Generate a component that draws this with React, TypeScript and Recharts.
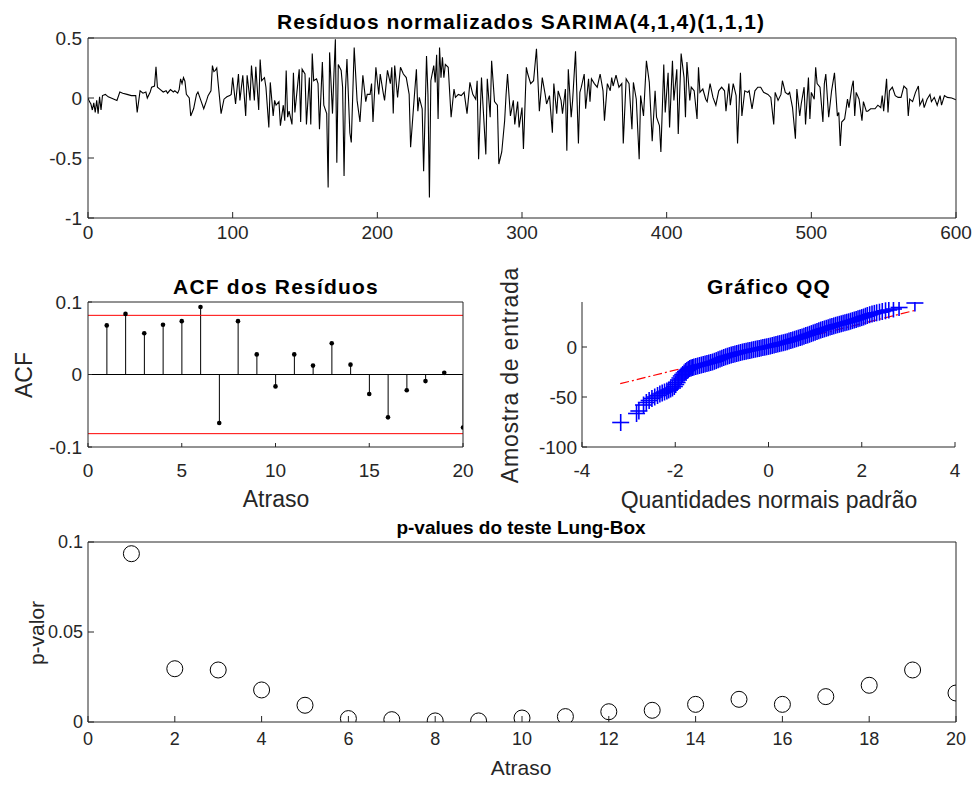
import React from "react";
import {
  Bar,
  ComposedChart,
  Line,
  LineChart,
  ReferenceLine,
  Scatter,
  ScatterChart,
  XAxis,
  YAxis,
} from "recharts";

const FONT = '"Liberation Sans", Arial, Helvetica, sans-serif';
const AX = "#262626";
const W = 978;
const H = 785;
const YW = 60;
const XH = 40;
const MIR = 10;

// residuos normalizados: [instante, valor]
const residuals: [number, number][] = [
  [0, 0], [1, -0.03], [2, -0.05], [3, -0.1], [4, -0.04], [5, -0.12], [6, -0.02], [7, -0.13], [8, 0.01], [9, -0.1],
  [10, 0.02], [12, 0.03], [14, 0.01], [16, 0], [18, -0.01], [20, -0.02], [22, 0.05], [24, 0.04], [27, 0.03], [30, 0.02],
  [33, 0.02], [34, -0.12], [36, 0.06], [38, 0.04], [40, 0.05], [41, 0], [43, 0.05], [44, 0.09], [46, 0.1], [47, 0.26],
  [48, 0.09], [50, 0.07], [52, 0.05], [54, 0.06], [55, 0.04], [57, 0.07], [59, 0.05], [60, 0.06], [62, 0.04], [63, 0.07],
  [64, 0.16], [65, 0.12], [66, 0.17], [67, 0.14], [68, 0.03], [70, 0], [71, -0.15], [73, -0.09], [75, 0.03], [76, 0.05],
  [78, -0.02], [80, -0.09], [82, -0.02], [83, 0.02], [85, 0.06], [86, 0.27], [87, 0.22], [88, 0.23], [89, 0.25], [90, 0.12],
  [92, -0.13], [94, -0.01], [96, 0.01], [98, 0.02], [99, 0.03], [100, 0.17], [102, -0.05], [104, 0.2], [105, -0.02], [107, 0.19],
  [109, -0.15], [110, 0.19], [112, -0.02], [113, 0.27], [115, -0.02], [116, 0.26], [118, -0.1], [119, 0.32], [120, 0.144], [122, 0.17],
  [123, 0.09], [125, -0.245], [126, 0.13], [128, -0.15], [129, -0.02], [130, -0.06], [132, -0.03], [133, -0.23], [135, -0.06], [136, -0.19],
  [137, 0.23], [138, -0.16], [139, -0.11], [141, -0.22], [142, 0.21], [143, -0.12], [145, 0.12], [146, 0.24], [147, -0.2], [148, 0.24],
  [150, 0.2], [151, -0.22], [153, 0.17], [154, -0.22], [155, 0.37], [156, 0.144], [158, 0.16], [159, 0.12], [160, -0.26], [162, 0.3],
  [163, -0.06], [165, -0.13], [166, -0.745], [167, 0.38], [169, -0.13], [170, 0.2], [171, 0.49], [172, -0.54], [173, 0.28], [175, 0.23],
  [176, 0.09], [177, -0.65], [178, 0.075], [179, 0.325], [181, -0.29], [182, -0.37], [184, 0.42], [186, -0.02], [188, -0.2], [190, 0.19],
  [192, -0.03], [193, 0.03], [195, 0.03], [196, 0.12], [197, -0.2], [199, 0.256], [201, 0.03], [202, 0.2], [204, 0.047], [205, -0.02],
  [207, 0.23], [209, 0.12], [210, 0.256], [211, -0.13], [212, 0.27], [214, 0.005], [216, 0.256], [218, 0.2], [220, 0.17], [222, 0.03],
  [223, -0.41], [225, -0.08], [227, 0.24], [228, -0.11], [229, 0.005], [231, -0.09], [232, -0.61], [234, 0.35], [235, 0.03], [236, -0.83],
  [237, 0.144], [239, 0.27], [240, 0.13], [241, 0.36], [242, -0.175], [243, 0.42], [244, 0.17], [245, 0.34], [246, 0.17], [247, 0.28],
  [249, 0.256], [251, -0.16], [253, 0.075], [254, 0.005], [256, 0.03], [258, 0.02], [260, 0.047], [262, -0.13], [264, 0.13], [266, 0.03],
  [268, -0.01], [269, 0.144], [270, -0.51], [272, 0.17], [273, -0.05], [275, -0.47], [276, 0.16], [278, -0.16], [279, 0.31], [281, -0.03],
  [283, -0.06], [284, -0.55], [286, -0.45], [288, -0.19], [289, 0.03], [290, 0.2], [292, -0.15], [294, -0.02], [295, -0.22], [297, -0.03],
  [298, -0.245], [300, -0.08], [301, -0.425], [303, 0.256], [304, 0.2], [306, 0.12], [308, 0.144], [310, 0.41], [312, -0.11], [314, 0.17],
  [316, 0.03], [317, -0.05], [319, 0.02], [321, -0.29], [322, 0.12], [324, -0.13], [325, 0.06], [327, -0.02], [328, -0.13], [330, 0.075],
  [331, -0.44], [332, 0.24], [334, -0.16], [335, -0.02], [337, 0.39], [339, -0.38], [340, 0.047], [341, 0.09], [343, 0.2], [344, -0.09],
  [346, 0.16], [347, -0.03], [348, 0.16], [350, 0.12], [352, 0.09], [354, 0.2], [356, 0.06], [357, -0.19], [359, 0.12], [361, 0.06],
  [362, 0.17], [363, 0.1], [365, 0.19], [367, 0.09], [369, 0.12], [370, -0.38], [372, 0.16], [374, 0.12], [376, -0.26], [377, 0.13],
  [379, -0.01], [381, -0.51], [382, 0.02], [384, -0.15], [386, 0.31], [388, 0.13], [390, -0.36], [392, 0.06], [393, -0.16], [395, -0.23],
  [396, -0.45], [398, 0.28], [399, -0.12], [401, 0.21], [402, -0.245], [404, 0.31], [405, -0.02], [407, 0.24], [408, -0.3], [410, 0.37],
  [412, 0.17], [413, -0.16], [414, 0.3], [416, -0.02], [417, 0.09], [419, 0.06], [421, -0.175], [422, 0.256], [423, 0.047], [425, 0.075],
  [427, -0.01], [428, -0.03], [430, 0.12], [432, 0.005], [434, -0.06], [436, 0.06], [438, 0.09], [440, 0.06], [441, -0.11], [443, 0.12],
  [444, -0.06], [446, 0.12], [448, 0.02], [449, -0.38], [451, 0.21], [452, -0.15], [454, 0.06], [456, 0.047], [457, 0.06], [459, -0.09],
  [461, 0.06], [463, 0.09], [465, 0.09], [467, 0.047], [470, 0.03], [472, 0.005], [474, -0.22], [475, 0.047], [477, -0.02], [479, 0.03],
  [480, 0.144], [482, 0.047], [484, 0.03], [485, 0.047], [487, -0.08], [489, -0.34], [490, 0.075], [492, -0.15], [493, -0.05], [495, 0.09],
  [496, -0.22], [498, 0.17], [499, -0.175], [500, 0.047], [502, -0.01], [503, 0.256], [504, 0.12], [506, 0.09], [508, -0.2], [509, 0.12],
  [510, 0.2], [512, -0.16], [514, 0.06], [516, 0.21], [518, -0.15], [519, -0.12], [520, -0.4], [521, -0.2], [523, -0.175], [525, -0.01],
  [526, -0.08], [528, 0.09], [529, 0.144], [530, -0.15], [531, 0.047], [533, -0.01], [535, -0.19], [536, -0.03], [538, -0.11], [539, -0.11],
  [541, -0.09], [544, -0.09], [546, -0.06], [548, -0.08], [549, 0.02], [550, -0.11], [552, 0.16], [553, -0.12], [554, 0.06], [556, 0.09],
  [558, 0.02], [560, 0.005], [562, 0.005], [564, 0.1], [566, 0.075], [567, -0.15], [568, -0.01], [570, -0.03], [572, 0.047], [574, 0.1],
  [575, -0.06], [577, -0.01], [578, -0.08], [580, -0.01], [582, 0.03], [583, -0.03], [585, 0.005], [587, -0.06], [589, 0.02], [590, -0.06],
  [592, 0.02], [594, 0.005], [597, 0], [600, -0.015],
];

// ACF dos residuos
const acfLags = [1, 2, 3, 4, 5, 6, 7, 8, 9, 10, 11, 12, 13, 14, 15, 16, 17, 18, 19, 20];
const acfValues = [
  0.0677, 0.0836, 0.0568, 0.0686, 0.0736, 0.0932, -0.0668, 0.0736, 0.0277, -0.0164,
  0.0277, 0.0123, 0.0432, 0.0136, -0.0268, -0.0591, -0.0218, -0.0091, 0.0023, -0.0732,
];
const acfBound = 0.0816;

// grafico QQ: [quantil normal, amostra]
const qqPoints: [number, number][] = [
  [-3.17, -75.5], [-2.83, -66.5], [-2.78, -64], [-2.68, -58], [-2.62, -55.5], [-2.56, -53.5], [-2.5, -51.5], [-2.44, -50],
  [-2.38, -48.5], [-2.33, -47], [-2.28, -46], [-2.23, -45], [-2.18, -44], [-2.14, -43], [-2.1, -42], [-2.06, -41],
  [-2.02, -39.5], [-1.99, -37.5], [-1.96, -35.5], [-1.93, -33], [-1.9, -31], [-1.87, -29], [-1.84, -27.5], [-1.81, -26],
  [-1.78, -24.5], [-1.75, -23.5], [-1.72, -22.5], [-1.69, -21.5], [-1.66, -21], [-1.63, -20.5], [-1.6, -20], [-1.56, -19.5],
  [-1.52, -19], [-1.48, -18.5], [-1.44, -18], [-1.4, -17.5], [-1.36, -17], [-1.32, -16.5], [-1.28, -16], [-1.24, -15.5],
  [-1.2, -15], [-1.16, -14.3], [-1.12, -13.6], [-1.08, -12.8], [-1.04, -12], [-1.0, -11.2], [-0.96, -10.5], [-0.92, -9.8],
  [-0.88, -9.2], [-0.84, -8.6], [-0.8, -8], [-0.76, -7.5], [-0.72, -7], [-0.68, -6.5], [-0.64, -6], [-0.6, -5.5],
  [-0.56, -5], [-0.52, -4.6], [-0.48, -4.2], [-0.44, -3.8], [-0.4, -3.4], [-0.36, -3], [-0.32, -2.6], [-0.28, -2.2],
  [-0.24, -1.8], [-0.2, -1.4], [-0.16, -1], [-0.12, -0.6], [-0.08, -0.2], [-0.04, 0.2], [0, 0.6], [0.04, 1.0],
  [0.08, 1.5], [0.12, 2], [0.16, 2.5], [0.2, 3], [0.24, 3.4], [0.28, 3.9], [0.32, 4.3], [0.36, 4.8],
  [0.4, 5.3], [0.44, 5.9], [0.48, 6.5], [0.52, 7.1], [0.56, 7.7], [0.6, 8.3], [0.64, 8.9], [0.68, 9.5],
  [0.72, 10.1], [0.76, 10.8], [0.8, 11.4], [0.84, 12], [0.88, 12.7], [0.92, 13.4], [0.96, 14.1], [1.0, 14.8],
  [1.04, 15.5], [1.08, 16.2], [1.12, 16.9], [1.16, 17.5], [1.2, 18.1], [1.24, 18.7], [1.28, 19.3], [1.32, 19.9],
  [1.36, 20.5], [1.4, 21.1], [1.44, 21.7], [1.48, 22.2], [1.52, 22.7], [1.56, 23.2], [1.6, 23.7], [1.64, 24.2],
  [1.68, 24.7], [1.72, 25.2], [1.76, 25.8], [1.8, 26.4], [1.84, 27], [1.88, 27.6], [1.92, 28.2], [1.96, 28.8],
  [2.0, 29.4], [2.04, 30], [2.08, 30.8], [2.12, 31.5], [2.17, 32.3], [2.22, 33], [2.27, 33.6], [2.32, 34.2],
  [2.38, 34.8], [2.44, 35.5], [2.51, 36.2], [2.58, 37], [2.68, 38], [2.8, 39.5], [3.14, 44],
];
const qqLineX = [-3.18, 3.14];
const qqLineY = [-36.7, 36.6];

// p-values Ljung-Box
const lbLags = [1, 2, 3, 4, 5, 6, 7, 8, 9, 10, 11, 12, 13, 14, 15, 16, 17, 18, 19, 20];
const lbPValues = [
  0.0935, 0.0296, 0.0289, 0.0178, 0.0093, 0.0019, 0.0013, 0.0006, 0.0006, 0.0022,
  0.003, 0.0057, 0.0065, 0.0098, 0.0126, 0.0098, 0.0141, 0.0204, 0.0289, 0.0161,
];

const resData = residuals.map(([t, r]) => ({ t, r }));
const acfData = acfLags.map((lag, i) => ({ lag, acf: acfValues[i] }));
const qqData = qqPoints.map(([x, y]) => ({ x, y }));
const lbData = lbLags.map((lag, i) => ({ lag, p: lbPValues[i] }));

type Box = { l: number; t: number; r: number; b: number };

function marginFor(b: Box, box: boolean) {
  return {
    left: b.l - YW,
    top: box ? b.t - MIR : b.t,
    right: box ? W - b.r - MIR : W - b.r,
    bottom: H - b.b - XH,
  };
}

type FrameOpts = {
  xKey: string;
  yKey?: string;
  xDomain: [number, number];
  xTicks: number[];
  yDomain: [number, number];
  yTicks: number[];
  tickLen: number;
  fontSize: number;
  xGap: number;
  yGap: number;
  box: boolean;
};

// eixos com marcas para dentro, e caixa opcional (eixos espelhados sem rotulos)
function frame(o: FrameOpts) {
  const tickStyle = { fontSize: o.fontSize, fill: AX, fontFamily: FONT };
  const line = { stroke: AX, strokeWidth: 1 };
  const els = [
    <XAxis
      key="x"
      dataKey={o.xKey}
      type="number"
      domain={o.xDomain}
      ticks={o.xTicks}
      allowDataOverflow
      interval={0}
      height={XH}
      tickSize={-o.tickLen}
      tickMargin={o.tickLen + o.xGap}
      tick={tickStyle}
      axisLine={line}
      tickLine={line}
    />,
    <YAxis
      key="y"
      dataKey={o.yKey}
      type="number"
      domain={o.yDomain}
      ticks={o.yTicks}
      allowDataOverflow
      interval={0}
      width={YW}
      tickSize={-o.tickLen}
      tickMargin={o.tickLen + o.yGap}
      tick={tickStyle}
      axisLine={line}
      tickLine={line}
    />,
  ];
  if (o.box) {
    els.push(
      <XAxis
        key="xm"
        xAxisId="m"
        orientation="top"
        type="number"
        domain={o.xDomain}
        ticks={o.xTicks}
        allowDataOverflow
        interval={0}
        height={MIR}
        tickSize={-o.tickLen}
        tick={false}
        axisLine={line}
        tickLine={line}
      />,
      <YAxis
        key="ym"
        yAxisId="m"
        orientation="right"
        type="number"
        domain={o.yDomain}
        ticks={o.yTicks}
        allowDataOverflow
        interval={0}
        width={MIR}
        tickSize={-o.tickLen}
        tick={false}
        axisLine={line}
        tickLine={line}
      />
    );
  }
  return els;
}

function Txt(props: {
  x: number;
  y: number;
  size: number;
  bold?: boolean;
  rotate?: boolean;
  spacing?: number;
  color?: string;
  children: React.ReactNode;
}) {
  return (
    <div
      style={{
        position: "absolute",
        left: props.x,
        top: props.y,
        transform: `translate(-50%, -50%)${props.rotate ? " rotate(-90deg)" : ""}`,
        fontSize: props.size,
        fontWeight: props.bold ? 700 : 400,
        fontFamily: FONT,
        color: props.color ?? AX,
        whiteSpace: "nowrap",
        lineHeight: 1,
        letterSpacing: props.spacing ?? 0,
      }}
    >
      {props.children}
    </div>
  );
}

const layer: React.CSSProperties = { position: "absolute", left: 0, top: 0 };

const topBox: Box = { l: 88, t: 38, r: 956, b: 218 };
const acfBox: Box = { l: 88, t: 302, r: 463, b: 447 };
const qqBox: Box = { l: 582, t: 302, r: 955, b: 447 };
const lbBox: Box = { l: 88, t: 542, r: 956, b: 722 };

const cross = (p: any) => (
  <g>
    <line x1={p.cx - 8.5} x2={p.cx + 8.5} y1={p.cy} y2={p.cy} stroke="#0000FF" strokeWidth={1.6} />
    <line x1={p.cx} x2={p.cx} y1={p.cy - 8.5} y2={p.cy + 8.5} stroke="#0000FF" strokeWidth={1.6} />
  </g>
);

const stemDot = (p: any) => <circle cx={p.cx} cy={p.cy} r={2.3} fill="#000" />;

const ring = (p: any) => <circle cx={p.cx} cy={p.cy} r={8} fill="none" stroke="#000" strokeWidth={1} />;

export default function App() {
  return (
    <div style={{ position: "absolute", left: 0, top: 0, width: W, height: H, background: "#fff" }}>
      <div style={layer}>
        <LineChart width={W} height={H} data={resData} margin={marginFor(topBox, true)}>
          {frame({
            xKey: "t",
            xDomain: [0, 600],
            xTicks: [0, 100, 200, 300, 400, 500, 600],
            yDomain: [-1, 0.5],
            yTicks: [-1, -0.5, 0, 0.5],
            tickLen: 6,
            fontSize: 19,
            xGap: 8,
            yGap: 6,
            box: true,
          })}
          <Line dataKey="r" stroke="#000" strokeWidth={1.1} dot={false} isAnimationActive={false} />
        </LineChart>
      </div>

      <div style={layer}>
        <ComposedChart width={W} height={H} data={acfData} margin={marginFor(acfBox, true)}>
          {frame({
            xKey: "lag",
            yKey: "acf",
            xDomain: [0, 20],
            xTicks: [0, 5, 10, 15, 20],
            yDomain: [-0.1, 0.1],
            yTicks: [-0.1, 0, 0.1],
            tickLen: 4,
            fontSize: 19,
            xGap: 17,
            yGap: 6,
            box: true,
          })}
          <ReferenceLine y={acfBound} stroke="#FF0000" strokeWidth={1} />
          <ReferenceLine y={-acfBound} stroke="#FF0000" strokeWidth={1} />
          <ReferenceLine y={0} stroke="#000" strokeWidth={1} />
          <Bar dataKey="acf" barSize={1} fill="#000" isAnimationActive={false} />
          <Scatter dataKey="acf" shape={stemDot} isAnimationActive={false} />
        </ComposedChart>
      </div>

      <div style={layer}>
        <ScatterChart width={W} height={H} margin={marginFor(qqBox, false)}>
          {frame({
            xKey: "x",
            yKey: "y",
            xDomain: [-4, 4],
            xTicks: [-4, -2, 0, 2, 4],
            yDomain: [-100, 45],
            yTicks: [-100, -50, 0],
            tickLen: 5,
            fontSize: 19,
            xGap: 17,
            yGap: 5,
            box: false,
          })}
          <Scatter data={qqData} shape={cross} isAnimationActive={false} />
          <ReferenceLine
            segment={[
              { x: qqLineX[0], y: qqLineY[0] },
              { x: qqLineX[1], y: qqLineY[1] },
            ]}
            stroke="#FF0000"
            strokeWidth={1.2}
            strokeDasharray="9 3 2 3"
            ifOverflow="visible"
          />
        </ScatterChart>
      </div>

      <div style={layer}>
        <ScatterChart width={W} height={H} margin={marginFor(lbBox, true)}>
          {frame({
            xKey: "lag",
            yKey: "p",
            xDomain: [0, 20],
            xTicks: [0, 2, 4, 6, 8, 10, 12, 14, 16, 18, 20],
            yDomain: [0, 0.1],
            yTicks: [0, 0.05, 0.1],
            tickLen: 6,
            fontSize: 18,
            xGap: 10,
            yGap: 5,
            box: true,
          })}
          <Scatter data={lbData} shape={ring} isAnimationActive={false} />
        </ScatterChart>
      </div>

      <Txt x={521} y={21} size={21} bold spacing={1} color="#000">
        Resíduos normalizados SARIMA(4,1,4)(1,1,1)
      </Txt>
      <Txt x={276} y={286} size={21} bold spacing={1.2} color="#000">
        ACF dos Resíduos
      </Txt>
      <Txt x={24} y={375} size={23} rotate>
        ACF
      </Txt>
      <Txt x={276} y={499} size={23}>
        Atraso
      </Txt>
      <Txt x={769} y={286} size={21} bold spacing={1.2} color="#000">
        Gráfico QQ
      </Txt>
      <Txt x={510} y={375} size={23} rotate spacing={0.8}>
        Amostra de entrada
      </Txt>
      <Txt x={769} y={500} size={23}>
        Quantidades normais padrão
      </Txt>
      <Txt x={521} y={527} size={19} bold color="#000">
        p-values do teste Lung-Box
      </Txt>
      <Txt x={36} y={633} size={21} rotate>
        p-valor
      </Txt>
      <Txt x={521} y={767} size={21}>
        Atraso
      </Txt>
    </div>
  );
}
